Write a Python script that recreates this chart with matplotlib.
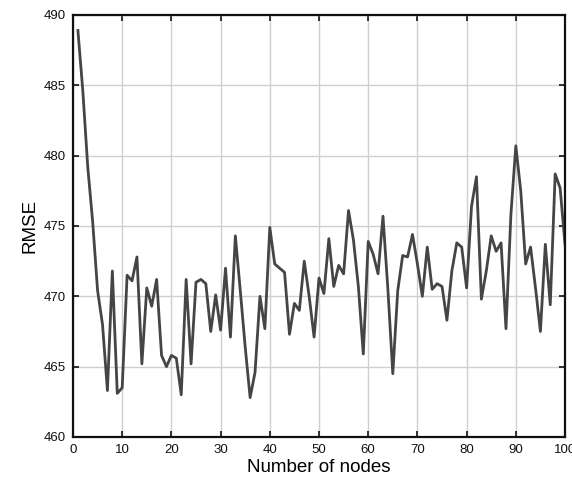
import matplotlib
matplotlib.use("Agg")
import matplotlib.pyplot as plt

# ---------- Data ----------
nodes = list(range(1, 101))
rmse = [
    488.9, 484.6, 479.2, 475.3, 470.4, 468.0, 463.3, 471.8, 463.1, 463.5,
    471.5, 471.1, 472.8, 465.2, 470.6, 469.3, 471.2, 465.8, 465.0, 465.8,
    465.6, 463.0, 471.2, 465.2, 471.0, 471.2, 470.9, 467.5, 470.1, 467.6,
    472.0, 467.1, 474.3, 470.4, 466.4, 462.8, 464.6, 470.0, 467.7, 474.9,
    472.3, 472.0, 471.7, 467.3, 469.5, 469.0, 472.5, 470.0, 467.1, 471.3,
    470.2, 474.1, 470.7, 472.2, 471.6, 476.1, 474.0, 470.7, 465.9, 473.9,
    473.0, 471.6, 475.7, 470.5, 464.5, 470.4, 472.9, 472.8, 474.4, 472.3,
    470.0, 473.5, 470.5, 470.9, 470.7, 468.3, 471.8, 473.8, 473.5, 470.6,
    476.4, 478.5, 469.8, 471.8, 474.3, 473.2, 473.8, 467.7, 475.8, 480.7,
    477.5, 472.3, 473.5, 470.6, 467.5, 473.7, 469.4, 478.7, 477.7, 473.7,
]
x_ticks = [0, 10, 20, 30, 40, 50, 60, 70, 80, 90, 100]
y_ticks = [460, 465, 470, 475, 480, 485, 490]

plt.rcParams["font.family"] = ["Liberation Sans", "DejaVu Sans"]

fig = plt.figure(figsize=(5.72, 4.93), dpi=100)
ax = fig.add_axes([0.1276, 0.1136, 0.8602, 0.856])

ax.plot(nodes, rmse, color="#454545", linewidth=2.0)

ax.set_xlim(0, 100)
ax.set_ylim(460, 490)
ax.set_xticks(x_ticks)
ax.set_yticks(y_ticks)
ax.grid(True, color="#cfcfcf", linewidth=1.0, linestyle="-")
ax.set_axisbelow(True)

for s in ax.spines.values():
    s.set_linewidth(1.6)
    s.set_color("#111111")

ax.tick_params(direction="in", length=4, width=1.2, top=True, right=True,
               labelsize=9.5, colors="#111111", pad=5)

ax.set_xlabel("Number of nodes", fontsize=13.5, labelpad=2)
ax.set_ylabel("RMSE", fontsize=13.5, labelpad=4)

fig.savefig("out.png", dpi=100)
